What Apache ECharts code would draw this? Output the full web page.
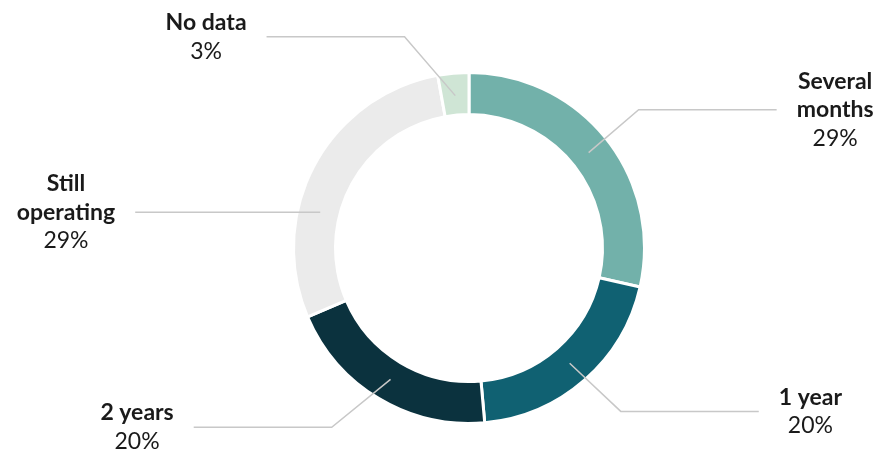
<!DOCTYPE html>
<html><head><meta charset="utf-8">
<script src="https://cdn.jsdelivr.net/npm/echarts@6/dist/echarts.min.js"></script>
<style>html,body{margin:0;padding:0;background:#fff}#c{width:881px;height:450px}</style>
</head><body><div id="c"></div>
<script>
// ---- data ----
const categories = ['Several months', '1 year', '2 years', 'Still operating', 'No data'];
const labelLines = [['Several', 'months'], ['1 year'], ['2 years'], ['Still', 'operating'], ['No data']];
const counts = [10, 7, 7, 10, 1];
const percentLabels = ['29%', '20%', '20%', '29%', '3%'];

// ---- style ----
const palette = ['#72b1aa', '#106172', '#0b323e', '#ebebeb', '#cfe5d5'];
const CX = 469, CY = 248, R_IN = 133.5, R_OUT = 175.5, R_LINE = 153;
// label nudges (presentation only)
const labelShift = {
  0: { dx: 0, dy: -3 },
  1: { dx: 9, dy: 0 },
  2: { dx: -26, dy: 4 },
  3: { dx: -25, dy: 69, horizontal: true },
  4: { dx: -45, dy: 5 }
};

const chart = echarts.init(document.getElementById('c'), null, { renderer: 'canvas' });

const ringData = categories.map((c, i) => ({ name: c, value: counts[i], itemStyle: { color: palette[i] } }));
const labelData = categories.map((c, i) => ({ name: c, value: counts[i] }));

chart.setOption({
  animation: false,
  series: [
    {
      type: 'pie', silent: true,
      center: [CX, CY], radius: [R_IN, R_OUT],
      startAngle: 90, clockwise: true,
      itemStyle: { borderColor: '#fff', borderWidth: 3 },
      label: { show: false }, labelLine: { show: false },
      data: ringData
    },
    {
      type: 'pie', silent: true, z: 3,
      center: [CX, CY], radius: [0, R_LINE],
      startAngle: 90, clockwise: true,
      itemStyle: { color: 'rgba(0,0,0,0)', borderWidth: 0 },
      emphasis: { disabled: true },
      avoidLabelOverlap: true,
      label: {
        show: true, position: 'outside', bleedMargin: 0, overflow: 'none',
        distanceToLabelLine: 20,
        fontFamily: 'Lato',
        formatter: function (p) {
          const i = p.dataIndex;
          return labelLines[i].map(l => '{n|' + l + '}').join('\n') + '\n{p|' + percentLabels[i] + '}';
        },
        rich: {
          n: { fontFamily: 'Lato', fontWeight: 'bold', fontSize: 23, lineHeight: 28.5, color: '#1a1a1a', align: 'center' },
          p: { fontFamily: 'Lato', fontWeight: 'normal', fontSize: 23, lineHeight: 28.5, color: '#1a1a1a', align: 'center' }
        }
      },
      labelLine: {
        show: true, length: 64, length2: 138, smooth: false,
        lineStyle: { color: '#c8c8c8', width: 1.5 }
      },
      labelLayout: function (p) {
        const s = labelShift[p.dataIndex];
        if (!s || !p.labelLinePoints) return {};
        const pts = p.labelLinePoints.map(q => q.slice());
        const bend = [pts[1][0] + s.dx, pts[1][1] + s.dy];
        const end = [pts[2][0] + s.dx, pts[2][1] + s.dy];
        let start = pts[0];
        if (s.horizontal) {
          const dyc = bend[1] - CY;
          const dxc = Math.sqrt(Math.max(0, R_LINE * R_LINE - dyc * dyc));
          start = [end[0] < CX ? CX - dxc : CX + dxc, bend[1]];
          bend[0] = start[0]; bend[1] = start[1];
        }
        return { dx: s.dx, dy: s.dy, labelLinePoints: [start, bend, end] };
      },
      data: labelData
    }
  ]
});
</script>
</body></html>
